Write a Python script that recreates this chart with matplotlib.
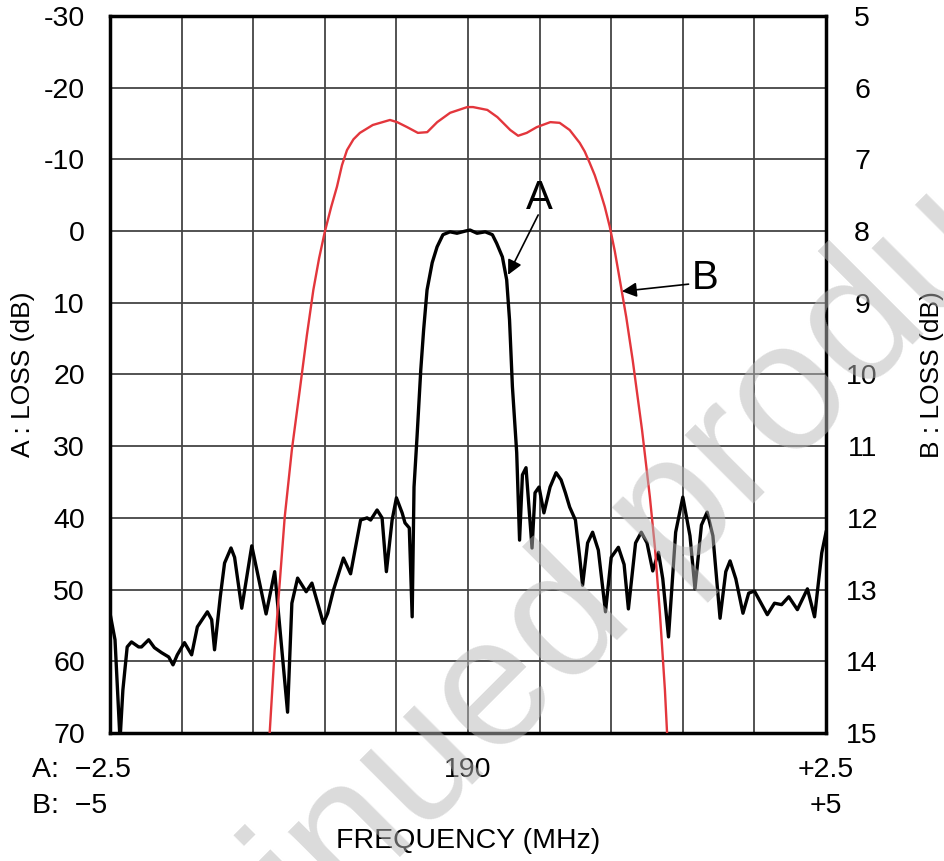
import matplotlib.pyplot as plt

plt.rcParams['font.family'] = ['Liberation Sans', 'DejaVu Sans']
plt.rcParams['axes.unicode_minus'] = False

# curve A : frequency offset (MHz, -2.5..+2.5) and loss (dB)
a_freq = [-2.50, -2.465, -2.43, -2.41, -2.38, -2.35, -2.30, -2.28, -2.23, -2.19,
          -2.14, -2.09, -2.06, -2.03, -1.98, -1.93, -1.89, -1.82, -1.79, -1.77,
          -1.73, -1.70, -1.655, -1.63, -1.58, -1.51, -1.41, -1.35, -1.26, -1.23,
          -1.19, -1.13, -1.09, -1.01, -0.98, -0.94, -0.87, -0.82, -0.75, -0.705,
          -0.68, -0.635, -0.60, -0.57, -0.53, -0.50, -0.46, -0.44, -0.41, -0.39,
          -0.377, -0.356, -0.33, -0.31, -0.286, -0.25, -0.216, -0.175, -0.126, -0.077,
          -0.02, 0.014, 0.063, 0.12, 0.17, 0.20, 0.24, 0.27, 0.29, 0.31,
          0.34, 0.36, 0.38, 0.405, 0.447, 0.468, 0.496, 0.53, 0.573, 0.615,
          0.65, 0.68, 0.71, 0.75, 0.78, 0.80, 0.835, 0.87, 0.91, 0.96,
          1.00, 1.05, 1.09, 1.12, 1.17, 1.21, 1.25, 1.29, 1.33, 1.36,
          1.40, 1.45, 1.50, 1.55, 1.585, 1.63, 1.67, 1.71, 1.76, 1.80,
          1.83, 1.87, 1.92, 1.96, 2.00, 2.09, 2.14, 2.19, 2.24, 2.30,
          2.37, 2.42, 2.47, 2.50]
a_loss = [53.3, 57.0, 71.0, 64.0, 58.0, 57.3, 58.0, 58.0, 57.0, 58.1,
          58.8, 59.4, 60.5, 59.1, 57.4, 59.1, 55.2, 53.1, 54.2, 58.4,
          51.0, 46.3, 44.2, 45.5, 52.6, 43.9, 53.4, 47.5, 67.1, 51.9,
          48.4, 50.3, 49.1, 54.7, 53.3, 50.1, 45.6, 47.8, 40.3, 40.0,
          40.3, 38.9, 40.0, 47.5, 40.3, 37.2, 39.3, 40.7, 41.4, 53.8,
          35.7, 28.7, 19.4, 13.8, 8.2, 4.4, 2.2, 0.5, 0.1, 0.3,
          0.0, -0.15, 0.3, 0.1, 0.5, 1.7, 3.6, 6.8, 12.4, 21.7,
          30.9, 43.1, 34.0, 33.0, 44.2, 36.5, 35.7, 39.3, 35.7, 33.7,
          34.7, 36.5, 38.5, 40.3, 45.5, 49.4, 43.5, 42.0, 44.5, 53.1,
          45.5, 44.1, 46.5, 52.7, 43.5, 42.0, 43.5, 47.4, 44.8, 48.5,
          56.6, 42.0, 37.1, 42.5, 49.9, 41.0, 39.2, 42.5, 54.0, 47.5,
          46.0, 48.5, 53.3, 50.5, 50.2, 53.5, 51.9, 52.1, 51.0, 52.8,
          49.9, 53.8, 44.9, 42.0]

# curve B : frequency offset (MHz, -5..+5) and loss (dB)
b_freq = [-2.77, -2.70, -2.63, -2.56, -2.46, -2.35, -2.25, -2.16, -2.08, -2.00,
          -1.91, -1.83, -1.76, -1.69, -1.60, -1.51, -1.33, -1.09, -0.99, -0.85,
          -0.70, -0.57, -0.43, -0.25, -0.01, 0.07, 0.27, 0.41, 0.59, 0.70,
          0.82, 0.96, 1.15, 1.28, 1.42, 1.56, 1.63, 1.70, 1.77, 1.84,
          1.91, 1.98, 2.05, 2.12, 2.21, 2.30, 2.43, 2.54, 2.61, 2.68,
          2.75, 2.78]
b_loss = [15.0, 13.84, 12.91, 11.99, 11.05, 10.22, 9.45, 8.82, 8.38, 8.01,
          7.66, 7.38, 7.08, 6.87, 6.72, 6.63, 6.52, 6.45, 6.48, 6.55,
          6.63, 6.62, 6.48, 6.35, 6.27, 6.27, 6.31, 6.41, 6.59, 6.67,
          6.63, 6.55, 6.48, 6.49, 6.59, 6.77, 6.89, 7.05, 7.22, 7.43,
          7.66, 7.94, 8.28, 8.68, 9.20, 9.80, 10.77, 11.71, 12.41, 13.33,
          14.40, 15.0]

a_yticks = [-30, -20, -10, 0, 10, 20, 30, 40, 50, 60, 70]
b_yticks = [5, 6, 7, 8, 9, 10, 11, 12, 13, 14, 15]
a_xticks = [-2.5, -2.0, -1.5, -1.0, -0.5, 0.0, 0.5, 1.0, 1.5, 2.0, 2.5]

fig = plt.figure(figsize=(9.45, 8.61), dpi=100)
pos = [0.1164, 0.1487, 0.7577, 0.8327]
ax = fig.add_axes(pos)
ax.set_xlim(-2.5, 2.5)
ax.set_ylim(70, -30)
ax.set_xticks(a_xticks)
ax.set_yticks(a_yticks)
ax.set_xticklabels([])
ax.tick_params(length=0, labelsize=20.5, pad=18)
ax.grid(True, color='#444444', linewidth=1.3)
ax.set_axisbelow(True)
for s in ax.spines.values():
    s.set_linewidth(2.5)
ax.set_ylabel('A : LOSS (dB)', fontsize=19, labelpad=6)
ax.plot(a_freq, a_loss, color='black', linewidth=2.4, zorder=4,
        solid_joinstyle='round')

axb = fig.add_axes(pos, facecolor='none')
axb.set_xlim(-5, 5)
axb.set_ylim(15, 5)
axb.set_yticks(b_yticks)
axb.xaxis.set_visible(False)
axb.yaxis.tick_right()
axb.yaxis.set_label_position('right')
axb.tick_params(length=0, labelsize=20.5, pad=26)
for lab in axb.get_yticklabels():
    lab.set_horizontalalignment('center')
axb.set_ylabel('B : LOSS (dB)', fontsize=19, labelpad=30)
for s in axb.spines.values():
    s.set_visible(False)
axb.plot(b_freq, b_loss, color='#e3363c', linewidth=1.7, zorder=3,
         solid_joinstyle='round')

# frequency labels under the plot
tr = ax.get_xaxis_transform()
ax.text(-3.045, -0.052, 'A:  \u22122.5', transform=tr, ha='left', va='center', fontsize=20.5)
ax.text(0.0, -0.052, '190', transform=tr, ha='center', va='center', fontsize=20.5)
ax.text(2.5, -0.052, '+2.5', transform=tr, ha='center', va='center', fontsize=20.5)
ax.text(-3.045, -0.102, 'B:  \u22125', transform=tr, ha='left', va='center', fontsize=20.5)
ax.text(2.5, -0.102, '+5', transform=tr, ha='center', va='center', fontsize=20.5)
ax.text(0.0, -0.15, 'FREQUENCY (MHz)', transform=tr, ha='center', va='center', fontsize=20.5)

# labels with arrows
ax.text(0.50, -4.6, 'A', fontsize=29, ha='center', va='center', zorder=6)
ax.annotate('', xy=(0.28, 6.1), xytext=(0.49, -2.25),
            arrowprops=dict(arrowstyle='-|>', color='black', lw=1.2,
                            mutation_scale=22, shrinkA=0, shrinkB=0), zorder=6)
ax.text(1.655, 6.5, 'B', fontsize=29, ha='center', va='center', zorder=6)
ax.annotate('', xy=(1.075, 8.4), xytext=(1.54, 7.4),
            arrowprops=dict(arrowstyle='-|>', color='black', lw=1.2,
                            mutation_scale=22, shrinkA=0, shrinkB=0), zorder=6)

fig.text(0.49, 0.155, 'Discontinued product', fontsize=132, rotation=45,
         ha='center', va='center', color='#b8b8b8', alpha=0.5, zorder=10)

fig.savefig('out.png', dpi=100)
